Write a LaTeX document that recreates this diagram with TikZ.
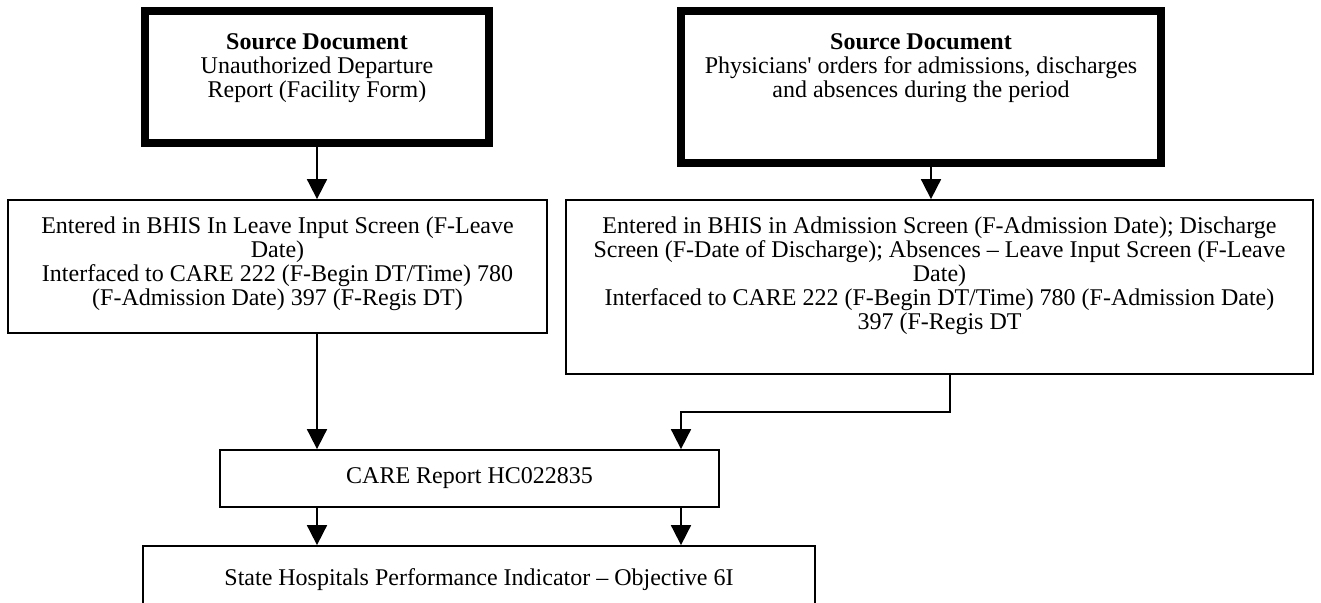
\documentclass[tikz,border=0pt]{standalone}
\usepackage{fontspec}
\setmainfont{Liberation Serif}
\usetikzlibrary{arrows.meta}
\newcommand\boxtext[4]{\parbox[c][#2][t]{#1}{\centering\rule{0pt}{#3}#4}}
\begin{document}
\begin{tikzpicture}[x=0.5pt,y=-0.5pt,
  thickbox/.style={draw, line width=4pt, inner sep=0pt},
  thinbox/.style={draw, line width=0.9pt, inner sep=0pt},
  flow/.style={draw, line width=0.9pt, -{Triangle[width=10pt,length=10pt]}},
  font=\fontsize{12}{12.1}\selectfont]
\useasboundingbox (0,0) rectangle (1321,602);

\node[thickbox] (src1) at (317,77) {\boxtext{172pt}{66pt}{19pt}{\textbf{Source Document}\\Unauthorized Departure\\Report (Facility Form)}};
\node[thickbox] (src2) at (921,87) {\boxtext{240pt}{76pt}{19pt}{\textbf{Source Document}\\Physicians\textquotesingle{} orders for admissions, discharges\\and absences during the period}};
\node[thinbox] (ent1) at (277.5,266.5) {\boxtext{269.5pt}{66.5pt}{16.5pt}{Entered in BHIS In Leave Input Screen (F-Leave\\Date)\\Interfaced to CARE 222 (F-Begin DT/Time) 780\\(F-Admission Date) 397 (F-Regis DT)}};
\node[thinbox] (ent2) at (939.5,287) {\boxtext{373.5pt}{87pt}{16.5pt}{Entered in BHIS in Admission Screen (F-Admission Date); Discharge\\Screen (F-Date of Discharge); Absences -- Leave Input Screen (F-Leave\\Date)\\Interfaced to CARE 222 (F-Begin DT/Time) 780 (F-Admission Date)\\397 (F-Regis DT}};
\node[thinbox, minimum width=249.5pt, minimum height=28.5pt] (care) at (469.5,478.5) {CARE Report HC022835};
\node[thinbox] (ind) at (479,593) {\boxtext{336pt}{47pt}{19.5pt}{State Hospitals Performance Indicator -- Objective 6I}};

\coordinate (xL) at (317,0);
\coordinate (xR) at (681,0);
\coordinate (xS) at (931,0);
\coordinate (xE) at (950,0);
\coordinate (bend) at (681,412);

\draw[flow] (xL |- src1.south) -- (xL |- ent1.north);
\draw[flow] (xS |- src2.south) -- (xS |- ent2.north);
\draw[flow] (xL |- ent1.south) -- (xL |- care.north);
\draw[flow] (xE |- ent2.south) |- (bend) -- (bend |- care.north);
\draw[flow] (xL |- care.south) -- (xL |- ind.north);
\draw[flow] (xR |- care.south) -- (xR |- ind.north);
\end{tikzpicture}
\end{document}
